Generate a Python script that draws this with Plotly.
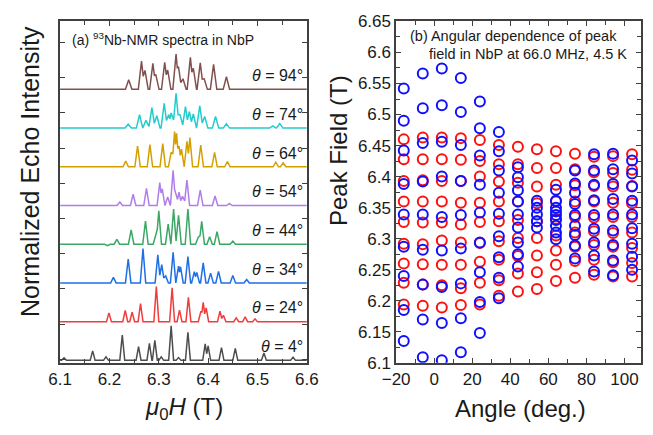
import plotly.graph_objects as go

# ---------------- Panel (a): NMR spectra (peak fields in T, normalized heights) -------------
spec_angles = [4, 24, 34, 44, 54, 64, 74, 94]
spec_offsets = [-0.03, 1.07, 2.17, 3.27, 4.37, 5.47, 6.57, 7.67]
spec_colors = ["#4d4d4d", "#f03c3c", "#1f6fe5", "#3aa864", "#b07ee8", "#d4a000", "#22cccc", "#80504f"]
spec_halfwidth = [0.005, 0.005, 0.0055, 0.0055, 0.0055, 0.0055, 0.0065, 0.0065]

peaks_4 = [6.108, 6.166, 6.193, 6.226, 6.259, 6.281, 6.292, 6.305, 6.325, 6.340, 6.359, 6.394, 6.400, 6.427, 6.455, 6.513, 6.572]
heights_4 = [0.07, 0.27, 0.10, 0.72, 0.39, 0.48, 0.57, 0.10, 0.98, 0.08, 0.80, 0.47, 0.41, 0.36, 0.34, 0.21, 0.09]

peaks_24 = [6.199, 6.232, 6.246, 6.263, 6.295, 6.327, 6.342, 6.360, 6.385, 6.390, 6.396, 6.424, 6.431, 6.457, 6.475, 6.495]
heights_24 = [0.25, 0.32, 0.27, 0.51, 1.00, 0.96, 0.33, 0.69, 0.28, 0.55, 0.39, 0.30, 0.18, 0.11, 0.14, 0.08]

peaks_34 = [6.208, 6.238, 6.268, 6.298, 6.306, 6.314, 6.329, 6.340, 6.344, 6.359, 6.372, 6.377, 6.390, 6.405, 6.421, 6.450, 6.478]
heights_34 = [0.16, 0.68, 0.98, 0.80, 0.52, 0.20, 0.87, 0.48, 0.46, 0.75, 0.32, 0.30, 0.57, 0.28, 0.33, 0.21, 0.10]

peaks_44 = [6.196, 6.215, 6.244, 6.273, 6.294, 6.300, 6.319, 6.330, 6.340, 6.359, 6.380, 6.387, 6.403, 6.418, 6.450]
heights_44 = [-0.04, 0.14, 0.41, 0.66, 0.27, 0.95, 0.57, 1.00, 0.82, 1.00, 0.20, 0.65, 0.21, 0.36, 0.09]

peaks_54 = [6.221, 6.248, 6.275, 6.302, 6.307, 6.318, 6.329, 6.335, 6.341, 6.348, 6.357, 6.384, 6.414, 6.443]
heights_54 = [0.10, 0.32, 0.49, 0.65, 0.47, 0.24, 1.00, 0.29, 0.38, 0.26, 0.72, 0.44, 0.27, 0.06]

peaks_64 = [6.233, 6.257, 6.282, 6.308, 6.325, 6.332, 6.336, 6.341, 6.346, 6.357, 6.363, 6.385, 6.413, 6.439, 6.537, 6.552]
heights_64 = [0.16, 0.59, 0.63, 0.66, 0.41, 1.00, 0.95, 0.59, 0.50, 0.72, 0.83, 0.62, 0.41, 0.15, 0.13, 0.11]

peaks_74 = [6.238, 6.261, 6.274, 6.286, 6.296, 6.311, 6.320, 6.325, 6.335, 6.343, 6.354, 6.362, 6.370, 6.383, 6.393, 6.415, 6.437, 6.531, 6.545]
heights_74 = [0.11, 0.38, 0.22, 0.58, 0.35, 0.70, 0.38, 0.43, 0.99, 0.38, 0.61, 0.47, 0.40, 0.63, 0.33, 0.33, 0.12, 0.06, 0.13]

peaks_94 = [6.239, 6.265, 6.272, 6.288, 6.294, 6.312, 6.318, 6.335, 6.340, 6.349, 6.364, 6.370, 6.384, 6.392, 6.411, 6.437]
heights_94 = [0.27, 0.80, 0.54, 0.74, 0.41, 0.77, 0.55, 1.00, 0.63, 0.30, 0.91, 0.60, 0.75, 0.30, 0.71, 0.36]

spec_peaks = [peaks_4, peaks_24, peaks_34, peaks_44, peaks_54, peaks_64, peaks_74, peaks_94]
spec_heights = [heights_4, heights_24, heights_34, heights_44, heights_54, heights_64, heights_74, heights_94]

field_ticks = [6.1, 6.2, 6.3, 6.4, 6.5, 6.6]
field_ticktext = ["6.1", "6.2", "6.3", "6.4", "6.5", "6.6"]

# ---------------- Panel (b): peak field vs angle ----------------
angles = [-16, -6, 4, 14, 24, 34, 44, 54, 64, 74, 84, 94, 104]
red_fields = [
    [6.460, 6.428, 6.393, 6.360, 6.327, 6.292, 6.260, 6.229, 6.194],
    [6.463, 6.428, 6.394, 6.360, 6.326, 6.291, 6.259, 6.226, 6.192],
    [6.463, 6.428, 6.393, 6.360, 6.326, 6.297, 6.258, 6.225, 6.189],
    [6.462, 6.427, 6.393, 6.358, 6.323, 6.294, 6.258, 6.220, 6.193],
    [6.459, 6.425, 6.400, 6.358, 6.327, 6.293, 6.263, 6.229, 6.194],
    [6.451, 6.420, 6.392, 6.360, 6.328, 6.296, 6.266, 6.233, 6.208],
    [6.448, 6.420, 6.390, 6.360, 6.330, 6.301, 6.272, 6.244, 6.215],
    [6.444, 6.414, 6.384, 6.357, 6.328, 6.301, 6.273, 6.246, 6.219],
    [6.441, 6.414, 6.387, 6.360, 6.332, 6.305, 6.281, 6.258, 6.232],
    [6.437, 6.412, 6.386, 6.360, 6.335, 6.310, 6.287, 6.264, 6.237],
    [6.432, 6.407, 6.385, 6.360, 6.334, 6.312, 6.290, 6.266, 6.242],
    [6.433, 6.406, 6.384, 6.358, 6.335, 6.309, 6.287, 6.262, 6.239],
    [6.436, 6.411, 6.385, 6.357, 6.335, 6.310, 6.285, 6.261, 6.239],
]
blue_fields = [
    [6.542, 6.490, 6.442, 6.388, 6.339, 6.287, 6.240, 6.185, 6.135],
    [6.566, 6.510, 6.454, 6.392, 6.339, 6.282, 6.226, 6.170, 6.109],
    [6.574, 6.515, 6.456, 6.400, 6.335, 6.281, 6.222, 6.164, 6.104],
    [6.559, 6.504, 6.451, 6.393, 6.338, 6.284, 6.228, 6.172, 6.117],
    [6.521, 6.478, 6.434, 6.387, 6.342, 6.294, 6.246, 6.198, 6.148],
    [6.472, 6.441, 6.410, 6.374, 6.340, 6.304, 6.270, 6.237, 6.204],
    [6.415, 6.399, 6.378, 6.360, 6.339, 6.318, 6.294, 6.275, 6.255],
    [6.361, 6.350, 6.339, 6.328, 6.318],
    [6.379, 6.361, 6.350, 6.344, 6.338, 6.330, 6.321, 6.310, 6.299],
    [6.410, 6.389, 6.374, 6.356, 6.338, 6.321, 6.306, 6.289, 6.268],
    [6.436, 6.410, 6.387, 6.362, 6.338, 6.316, 6.294, 6.273, 6.247],
    [6.437, 6.412, 6.388, 6.364, 6.339, 6.313, 6.290, 6.265, 6.241],
    [6.426, 6.405, 6.384, 6.361, 6.339, 6.317, 6.292, 6.271, 6.250],
]
angle_ticks = [-20, 0, 20, 40, 60, 80, 100]
peak_ticks = [6.1, 6.15, 6.2, 6.25, 6.3, 6.35, 6.4, 6.45, 6.5, 6.55, 6.6, 6.65]
peak_ticktext = ["6.1", "6.15", "6.2", "6.25", "6.3", "6.35", "6.4", "6.45", "6.5", "6.55", "6.6", "6.65"]

# ---------------- figure ----------------
W, H = 653, 435
FONT = "Liberation Sans, Arial, sans-serif"
AX = "#404040"
TXT = "#1a1a1a"


def stick_line(peaks, heights, base, hw, xmin=6.1, xmax=6.6):
    """Outline of narrow triangular peaks (upper envelope where neighbours overlap)."""
    xs, ys = [xmin], [base]
    n = len(peaks)
    for i, (c, h) in enumerate(zip(peaks, heights)):
        left = c - hw
        if i > 0 and peaks[i - 1] + hw > left:
            mid = 0.5 * (c + peaks[i - 1])
            d = 0.5 * (c - peaks[i - 1])
            v = max(0.0, max(h, heights[i - 1]) * (1 - d / hw))
            if xs[-1] < mid:
                xs.append(mid)
                ys.append(base + v)
        else:
            xs.append(left)
            ys.append(base)
        xs.append(c)
        ys.append(base + h)
        if not (i < n - 1 and peaks[i + 1] - hw < c + hw):
            xs.append(c + hw)
            ys.append(base)
    xs.append(xmax)
    ys.append(base)
    return xs, ys


fig = go.Figure()

for ang, off, col, hw, pk, ht in zip(spec_angles, spec_offsets, spec_colors, spec_halfwidth, spec_peaks, spec_heights):
    xs, ys = stick_line(pk, ht, off, hw)
    fig.add_trace(go.Scatter(x=xs, y=ys, mode="lines", line=dict(color=col, width=1.5),
                             xaxis="x", yaxis="y", showlegend=False, hoverinfo="skip"))
    fig.add_annotation(x=6.596, y=off + 0.39, xref="x", yref="y", xanchor="right", yanchor="middle",
                       text=f"<i>θ</i> = {ang}°", showarrow=False,
                       font=dict(family=FONT, size=16, color=TXT))

for fields, color in ((red_fields, "#ff1010"), (blue_fields, "#1010ff")):
    xs, ys = [], []
    for a, vals in zip(angles, fields):
        for v in vals:
            xs.append(a)
            ys.append(v)
    fig.add_trace(go.Scatter(x=xs, y=ys, mode="markers", xaxis="x2", yaxis="y2", showlegend=False,
                             marker=dict(symbol="circle-open", size=10, color=color,
                                         line=dict(width=2, color=color))))

common = dict(showline=True, linecolor=AX, linewidth=1.5, mirror="ticks", ticks="inside",
              ticklen=5, tickwidth=1.2, tickcolor=AX, showgrid=False, zeroline=False,
              tickfont=dict(family=FONT, size=17, color=TXT))

ytop = 1 - 13 / H
ybot = 1 - 370 / H

fig.update_layout(
    width=W, height=H, autosize=False,
    margin=dict(l=0, r=0, t=0, b=0),
    paper_bgcolor="white", plot_bgcolor="white",
    xaxis=dict(domain=[48 / W, 305 / W], range=[6.1, 6.6], anchor="y",
               tickvals=field_ticks, ticktext=field_ticktext,
               minor=dict(dtick=0.05, tick0=6.1, ticks="inside", ticklen=4, tickcolor=AX, showgrid=False),
               **common),
    yaxis=dict(domain=[ybot, ytop], range=[-0.1, 9.6], anchor="x",
               tickvals=list(range(10)), showticklabels=False, **common),
    xaxis2=dict(domain=[398 / W, 1.0], range=[-20, 108.7], anchor="y2",
                tickvals=angle_ticks,
                minor=dict(dtick=10, tick0=-20, ticks="inside", ticklen=4, tickcolor=AX, showgrid=False),
                **common),
    yaxis2=dict(domain=[ybot, ytop], range=[6.1, 6.65], anchor="x2",
                tickvals=peak_ticks, ticktext=peak_ticktext,
                minor=dict(dtick=0.025, tick0=6.1, ticks="inside", ticklen=4, tickcolor=AX, showgrid=False),
                **common),
)

# panel titles
fig.add_annotation(x=58 / W, y=1 - 31 / H, xref="paper", yref="paper", xanchor="left", yanchor="middle",
                   text="(a) <sup>93</sup>Nb-NMR spectra in NbP", showarrow=False,
                   font=dict(family=FONT, size=14, color=TXT))
fig.add_annotation(x=410 / W, y=1 - 28 / H, xref="paper", yref="paper", xanchor="left", yanchor="middle",
                   text="(b) Angular dependence of peak", showarrow=False,
                   font=dict(family=FONT, size=14.5, color=TXT))
fig.add_annotation(x=430 / W, y=1 - 47 / H, xref="paper", yref="paper", xanchor="left", yanchor="middle",
                   text="field in NbP at 66.0 MHz, 4.5 K", showarrow=False,
                   font=dict(family=FONT, size=14.5, color=TXT))

# axis titles
fig.add_annotation(x=16 / W, y=1 - 170 / H, xref="paper", yref="paper", xanchor="center", yanchor="middle",
                   text="Normalized Echo Intensity", textangle=-90, showarrow=False,
                   font=dict(family=FONT, size=25, color=TXT))
fig.add_annotation(x=177 / W, y=1 - 418 / H, xref="paper", yref="paper", xanchor="center", yanchor="middle",
                   text="<i>μ</i><sub>0</sub><i>H</i> (T)", showarrow=False,
                   font=dict(family=FONT, size=24, color=TXT))
fig.add_annotation(x=338 / W, y=1 - 148 / H, xref="paper", yref="paper", xanchor="center", yanchor="middle",
                   text="Peak Field (T)", textangle=-90, showarrow=False,
                   font=dict(family=FONT, size=24, color=TXT))
fig.add_annotation(x=527 / W, y=1 - 418 / H, xref="paper", yref="paper", xanchor="center", yanchor="middle",
                   text="Angle (deg.)", showarrow=False,
                   font=dict(family=FONT, size=24, color=TXT))

fig.write_html("out.html")
